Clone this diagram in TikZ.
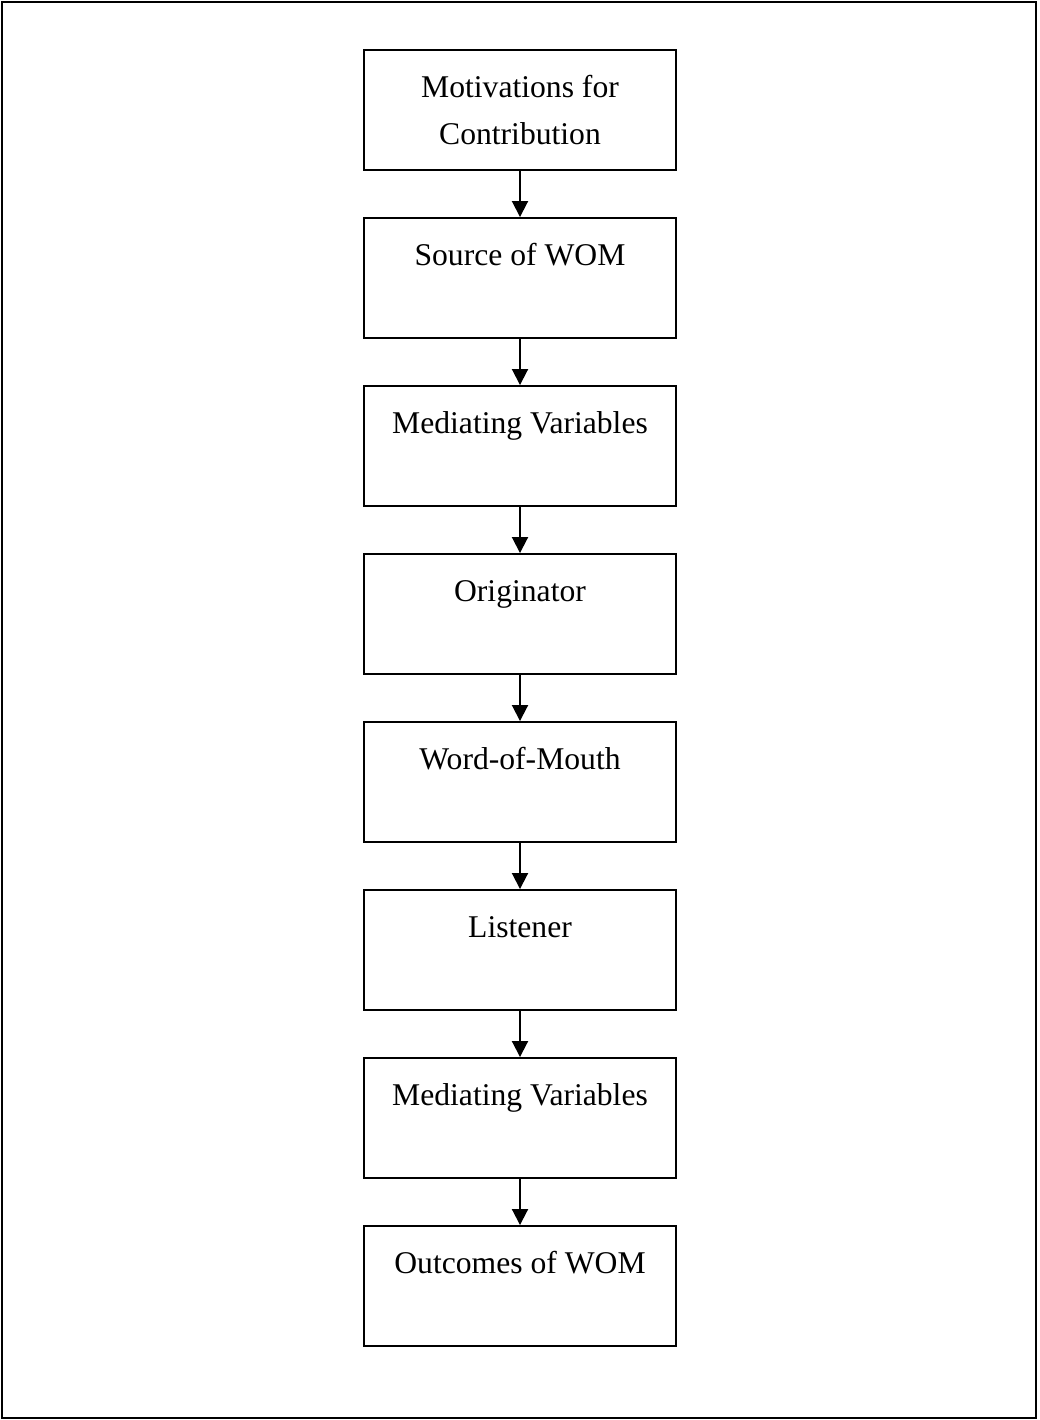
\documentclass[tikz,border=0pt]{standalone}
\usepackage{fontspec}
\setmainfont{Liberation Serif}
\usetikzlibrary{arrows.meta}

\begin{document}
\begin{tikzpicture}[
  box/.style={draw, line width=1.1pt, minimum width=6.24cm, minimum height=2.4cm,
    align=center, font=\fontsize{18}{26.7}\selectfont},
  flow/.style={line width=1.1pt, -{Triangle[width=0.32cm,length=0.32cm]}}]
  \useasboundingbox (0,0) rectangle (20.78,-28.4);
  % Outer frame
  \draw[line width=1.1pt] (0.04,-0.04) rectangle (20.72,-28.36);

  % Boxes
  \node[box] (motiv)   at (10.4, -2.2)  {Motivations for\\Contribution};
  \node[box] (source)  at (10.4, -5.56) {Source of WOM\\\mbox{}};
  \node[box] (medA)    at (10.4, -8.92) {Mediating Variables\\\mbox{}};
  \node[box] (orig)    at (10.4, -12.28) {Originator\\\mbox{}};
  \node[box] (wom)     at (10.4, -15.64) {Word-of-Mouth\\\mbox{}};
  \node[box] (listen)  at (10.4, -19.0) {Listener\\\mbox{}};
  \node[box] (medB)    at (10.4, -22.36) {Mediating Variables\\\mbox{}};
  \node[box] (outcome) at (10.4, -25.72) {Outcomes of WOM\\\mbox{}};

  % Arrows
  \draw[flow] (motiv.south) -- (source.north);
  \draw[flow] (source.south) -- (medA.north);
  \draw[flow] (medA.south) -- (orig.north);
  \draw[flow] (orig.south) -- (wom.north);
  \draw[flow] (wom.south) -- (listen.north);
  \draw[flow] (listen.south) -- (medB.north);
  \draw[flow] (medB.south) -- (outcome.north);
\end{tikzpicture}
\end{document}
